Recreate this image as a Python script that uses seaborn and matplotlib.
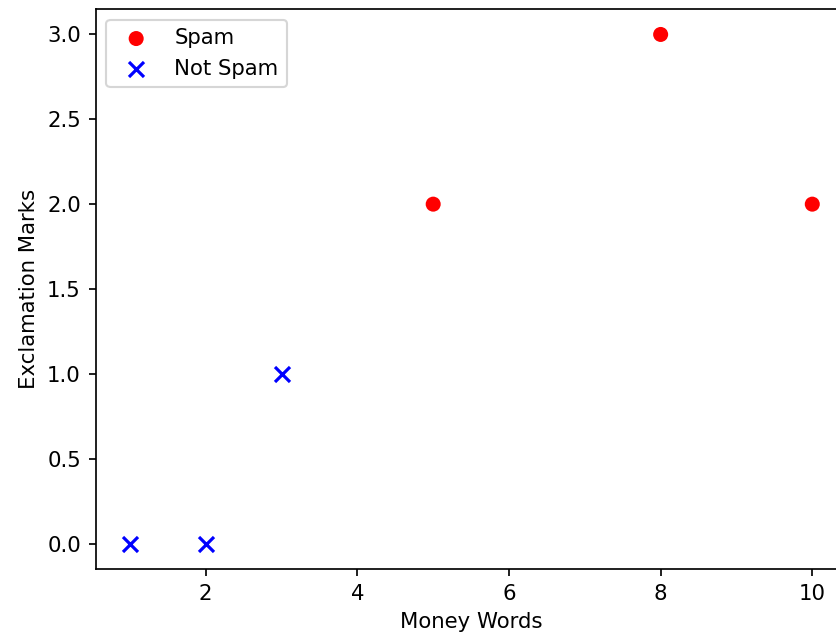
import matplotlib
matplotlib.use("Agg")
import matplotlib.pyplot as plt
import seaborn as sns
import pandas as pd

spam_money = [5, 8, 10]
spam_excl = [2, 3, 2]
ham_money = [1, 2, 3]
ham_excl = [0, 0, 1]

spam_df = pd.DataFrame({"Money Words": spam_money, "Exclamation Marks": spam_excl})
ham_df = pd.DataFrame({"Money Words": ham_money, "Exclamation Marks": ham_excl})

DPI = 153
fig = plt.figure(figsize=(836 / DPI, 636 / DPI), dpi=DPI)
ax = fig.add_axes([95.8 / 836, 67 / 636, 750.6 / 836, 560 / 636])

sns.scatterplot(data=spam_df, x="Money Words", y="Exclamation Marks", ax=ax,
                color="red", marker="o", s=50, edgecolor="none", label="Spam")
sns.scatterplot(data=ham_df, x="Money Words", y="Exclamation Marks", ax=ax,
                color="blue", marker="x", s=50, linewidth=1.5, label="Not Spam")

ax.set_xlabel("Money Words")
ax.set_ylabel("Exclamation Marks")
ax.legend(loc="upper left")

fig.savefig("out.png", dpi=DPI)
